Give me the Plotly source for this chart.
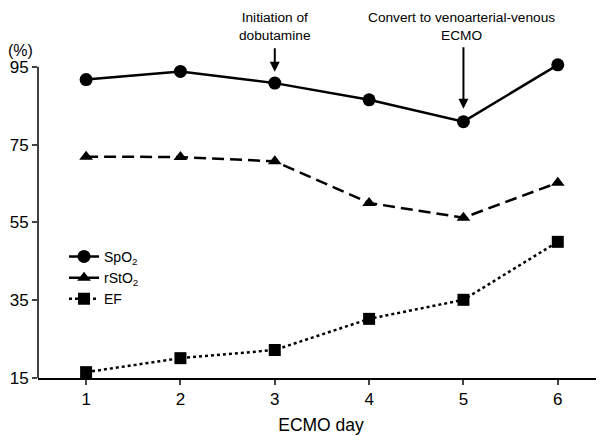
import plotly.graph_objects as go

days = [1, 2, 3, 4, 5, 6]
spo2 = [91.7, 93.8, 90.8, 86.5, 80.9, 95.5]
rsto2 = [71.9, 71.8, 70.7, 60.0, 56.2, 65.2]
ef = [16.5, 20.1, 22.2, 30.2, 35.1, 50.0]
yticks = [15, 35, 55, 75, 95]

FONT = "Liberation Sans, Arial, sans-serif"

fig = go.Figure()
fig.add_trace(go.Scatter(x=days, y=spo2, name="SpO<sub>2</sub>", mode="lines+markers",
                         line=dict(color="black", width=2.5, dash="solid"),
                         marker=dict(symbol="circle", size=13, color="black"), cliponaxis=False))
fig.add_trace(go.Scatter(x=days, y=rsto2, name="rStO<sub>2</sub>", mode="lines+markers",
                         line=dict(color="black", width=2.5, dash="12px,6px"),
                         marker=dict(symbol="triangle-up", size=12, color="black"), cliponaxis=False))
fig.add_trace(go.Scatter(x=days, y=ef, name="EF", mode="lines+markers",
                         line=dict(color="black", width=2.5, dash="dot"),
                         marker=dict(symbol="square", size=12, color="black"), cliponaxis=False))

# y axis line only from 15 to 95
fig.add_shape(type="line", xref="paper", yref="y", x0=0, x1=0, y0=15, y1=95,
              line=dict(color="black", width=1.5))

fig.add_annotation(x=3, y=93.7, xref="x", yref="y", text="", showarrow=True,
                   ax=0, ay=-25, arrowhead=2, arrowsize=1, arrowwidth=2, arrowcolor="black")
fig.add_annotation(x=5, y=84.2, xref="x", yref="y", text="", showarrow=True,
                   ax=0, ay=-63, arrowhead=2, arrowsize=1, arrowwidth=2, arrowcolor="black")
fig.add_annotation(x=3, y=1.103, xref="x", yref="paper", text="Initiation of<br>dobutamine",
                   showarrow=False, font=dict(size=13.7, color="black", family=FONT), yanchor="middle")
fig.add_annotation(x=4.98, y=1.103, xref="x", yref="paper", text="Convert to venoarterial-venous<br>ECMO",
                   showarrow=False, font=dict(size=13.7, color="black", family=FONT), yanchor="middle")
fig.add_annotation(x=-0.005, y=1.028, xref="paper", yref="paper", text="(%)", showarrow=False,
                   font=dict(size=16, color="black", family=FONT), xanchor="right", yanchor="middle")

fig.update_layout(
    width=596, height=427,
    margin=dict(l=30, r=0, t=51, b=57),
    plot_bgcolor="white", paper_bgcolor="white",
    font=dict(family=FONT, color="black", size=15),
    showlegend=True,
    legend=dict(x=0.046, y=0.43, xanchor="left", yanchor="top", bgcolor="rgba(0,0,0,0)",
                font=dict(size=14), tracegroupgap=0, itemwidth=30),
)
fig.update_xaxes(range=[0.49, 6.49], tickvals=days, ticks="outside", ticklen=5, tickwidth=1.5,
                 showline=True, linecolor="black", linewidth=1.5, showgrid=False, zeroline=False,
                 title=dict(text="ECMO day", font=dict(size=17.5), standoff=14),
                 tickfont=dict(size=17))
fig.update_yaxes(range=[15, 97], tickvals=yticks, ticks="outside", ticklen=5, tickwidth=1.5,
                 showline=False, showgrid=False, zeroline=False,
                 tickfont=dict(size=17))

fig.write_html("out.html")
